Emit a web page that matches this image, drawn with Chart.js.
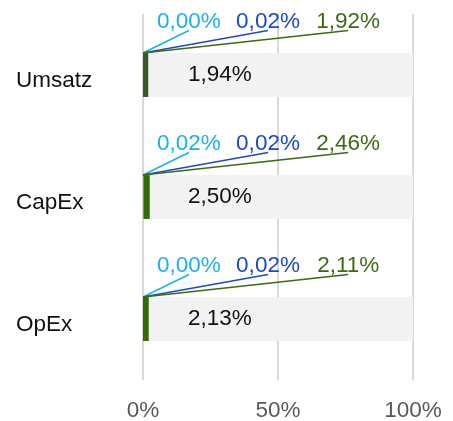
<!DOCTYPE html>
<html>
<head>
<meta charset="utf-8">
<script src="https://cdn.jsdelivr.net/npm/chart.js@4/dist/chart.umd.min.js"></script>
<style>
  html, body { margin: 0; padding: 0; background: #fff; }
  #wrap { width: 453px; height: 421px; }
</style>
</head>
<body>
<div id="wrap"><canvas id="taxonomyChart"></canvas></div>
<script>
// values in percent
const categories = ['Umsatz', 'CapEx', 'OpEx'];
const lightBlueValues = [0.00, 0.02, 0.00];
const darkBlueValues = [0.02, 0.02, 0.02];
const greenValues = [1.92, 2.46, 2.11];
const totalValues = [1.94, 2.50, 2.13];
const xTicks = [0, 50, 100];

const LIGHT_BLUE = '#1cb1ea';
const DARK_BLUE = '#1a4bc4';
const GREEN = '#3a6b12';
const FONT = "'Liberation Sans', Arial, sans-serif";
const FONT_SIZE = 22.5;

const fmt = (v) => v.toFixed(2).replace('.', ',') + '%';

// grey remainder so the bar reaches 100%
const restValues = totalValues.map((t) => 100 - t);

const calloutPlugin = {
  id: 'callouts',
  afterDatasetsDraw(chart) {
    const { ctx, chartArea, scales } = chart;
    const meta = chart.getDatasetMeta(2);
    const x0 = scales.x.getPixelForValue(0);
    const series = [
      { values: lightBlueValues, color: LIGHT_BLUE, pos: 0.17 },
      { values: darkBlueValues, color: DARK_BLUE, pos: 0.463 },
      { values: greenValues, color: GREEN, pos: 0.76 },
    ];

    ctx.save();
    ctx.font = FONT_SIZE + 'px ' + FONT;
    meta.data.forEach((bar, i) => {
      const { y, height } = bar.getProps(['y', 'height'], true);
      const top = y - height / 2;
      const baseline = top - 25;

      series.forEach((s) => {
        const lx = chartArea.left + chartArea.width * s.pos;
        ctx.strokeStyle = s.color;
        ctx.lineWidth = 1.5;
        ctx.beginPath();
        ctx.moveTo(x0, top);
        ctx.lineTo(lx, baseline + 2.5);
        ctx.stroke();

        ctx.fillStyle = s.color;
        ctx.textAlign = 'center';
        ctx.textBaseline = 'alphabetic';
        ctx.fillText(fmt(s.values[i]), lx, baseline);
      });

      // total inside the grey bar
      ctx.fillStyle = '#111';
      ctx.textAlign = 'center';
      ctx.textBaseline = 'middle';
      ctx.fillText(fmt(totalValues[i]), chartArea.left + chartArea.width * 0.285, y);
    });
    ctx.restore();
  }
};

const ctx = document.getElementById('taxonomyChart').getContext('2d');
new Chart(ctx, {
  type: 'bar',
  data: {
    labels: categories,
    datasets: [
      { label: 'light', data: lightBlueValues, backgroundColor: LIGHT_BLUE },
      { label: 'dark', data: darkBlueValues, backgroundColor: DARK_BLUE },
      { label: 'green', data: greenValues, backgroundColor: ['#3a5727', '#336b04', '#336b04'] },
      { label: 'rest', data: restValues, backgroundColor: '#f2f2f2' },
    ],
  },
  options: {
    indexAxis: 'y',
    responsive: true,
    maintainAspectRatio: false,
    animation: false,
    datasets: {
      bar: { barPercentage: 0.36, categoryPercentage: 1, borderWidth: 0 },
    },
    layout: { padding: { left: 16, top: 14, right: 40, bottom: 0 } },
    plugins: {
      legend: { display: false },
      tooltip: { enabled: false },
    },
    scales: {
      x: {
        stacked: true,
        min: 0,
        max: 100,
        afterBuildTicks: (scale) => { scale.ticks = xTicks.map((v) => ({ value: v })); },
        afterFit: (scale) => {
          scale.height = 41;
          scale.paddingLeft = 0;
          scale.paddingRight = 0;
        },
        grid: { color: '#d9d9d9', lineWidth: 2, drawTicks: false },
        border: { display: false },
        ticks: {
          padding: 17,
          color: '#595959',
          font: { family: FONT, size: FONT_SIZE },
          callback: (v) => v + '%',
        },
      },
      y: {
        stacked: true,
        afterFit: (scale) => {
          scale.width = 127;
          scale.paddingTop = 0;
          scale.paddingBottom = 0;
        },
        grid: { display: false },
        border: { display: false },
        ticks: {
          crossAlign: 'far',
          labelOffset: 6,
          color: '#111',
          font: { family: FONT, size: FONT_SIZE },
        },
      },
    },
  },
  plugins: [calloutPlugin],
});
</script>
</body>
</html>
